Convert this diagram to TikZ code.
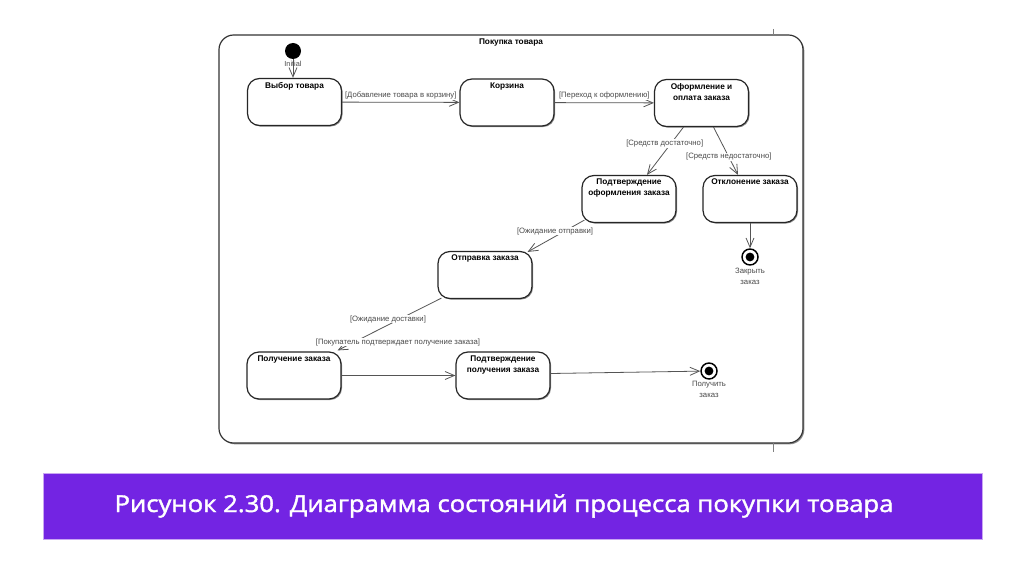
\documentclass[tikz,border=0pt]{standalone}
\usepackage{graphicx}
\usepackage{fontspec}
\setmainfont{Liberation Sans}
\newfontfamily\capfont[FakeBold=1.6]{Open Sans}
\usetikzlibrary{arrows.meta,shadows,calc}
\definecolor{band}{HTML}{7324E3}
\definecolor{bandedge}{HTML}{C9A6F2}
\definecolor{edgegray}{HTML}{555555}
\definecolor{lblgray}{HTML}{4A4A4A}
\begin{document}
\begin{tikzpicture}[x=0.75pt,y=-0.75pt,
  state/.style={draw=black!85, line width=0.9pt, rounded corners=9pt, fill=white,
    minimum width=70.5pt, minimum height=35.25pt, inner sep=0pt,
    drop shadow={shadow xshift=0.8pt, shadow yshift=-0.8pt, opacity=0.45, fill=black}},
  stext/.style={font=\fontsize{6.2}{8.2}\selectfont\bfseries, align=center, anchor=north, inner sep=0pt, yshift=-3pt},
  elabel/.style={font=\fontsize{5.8}{7}\selectfont, text=lblgray, fill=white, inner sep=0.6pt},
  trans/.style={draw=edgegray, line width=0.6pt, -{Straight Barb[length=7pt,width=6pt,line width=0.6pt]}},
  finalst/.style={circle, draw=black, line width=1.1pt, fill=white, minimum size=12pt, inner sep=0pt,
    path picture={\fill[black] (path picture bounding box.center) circle (3.3pt);}},
  fintext/.style={font=\fontsize{5.8}{8.25}\selectfont, text=lblgray, align=center, inner sep=0pt},
  framebox/.style={draw=black!80, line width=0.9pt, rounded corners=11pt, fill=white,
    drop shadow={shadow xshift=1pt, shadow yshift=-1pt, opacity=0.45, fill=black}},
]
\useasboundingbox (0,0) rectangle (1024,574);
\fill[white] (0,0) rectangle (1024,574);

% frame
\draw[framebox] (219,35) rectangle (803,443);
\draw[gray, line width=0.5pt] (773,29) -- (773,35);
\draw[gray, line width=0.5pt] (773,443) -- (773,452);
\node[font=\fontsize{6.2}{7}\selectfont\bfseries, inner sep=0pt] (title) at (511,43) {Покупка товара};

% states
\node[state] (vybor) at (294.5,102) {};
\node[stext] (vybort) at (vybor.north) {Выбор товара};
\node[state] (korz) at (507,102.5) {};
\node[stext] (korzt) at (korz.north) {Корзина};
\node[state] (oform) at (701.5,103) {};
\node[stext] (oformt) at (oform.north) {Оформление и\\оплата заказа};
\node[state] (podtv1) at (629,199) {};
\node[stext] (podtv1t) at (podtv1.north) {Подтверждение\\оформления заказа};
\node[state] (otkl) at (750,199) {};
\node[stext] (otklt) at (otkl.north) {Отклонение заказа};
\node[state] (otpr) at (485,275) {};
\node[stext] (otprt) at (otpr.north) {Отправка заказа};
\node[state] (poluch) at (294,375.5) {};
\node[stext] (polucht) at (poluch.north) {Получение заказа};
\node[state] (podtv2) at (503,375.5) {};
\node[stext] (podtv2t) at (podtv2.north) {Подтверждение\\получения заказа};

% pseudo states
\node[circle, fill=black, minimum size=12pt, inner sep=0pt] (init) at (293,51) {};
\node[finalst] (fin1) at (750,257) {};
\node[fintext] (fin1t) at (750,276) {Закрыть\\заказ};
\node[finalst] (fin2) at (709,371) {};
\node[fintext] (fin2t) at (709,389) {Получить\\заказ};

% transitions
\draw[trans] (init) -- (init |- vybor.north);
\node[font=\fontsize{5.5}{6}\selectfont, text=lblgray, inner sep=0pt] (initt) at (293,64) {Initial};
\draw[trans] (vybor) -- node[elabel, above=1.5pt] (l1) {[Добавление товара в корзину]} (korz);
\draw[trans] (korz) -- node[elabel, above=1.5pt] (l2) {[Переход к оформлению]} (oform);
\draw[trans] ($(oform.south)+(-18,0)$) -- node[elabel, pos=0.35, xshift=-4.5pt] (l3) {[Средств достаточно]} ($(podtv1.north)+(18,0)$);
\draw[trans] ($(oform.south)+(12,0)$) -- node[elabel, pos=0.625] (l4) {[Средств недостаточно]} ($(otkl.north)+(-12,0)$);
\draw[trans] (otkl) -- (fin1);
\draw[trans] ($(podtv1.south west)+(3,-3)$) -- ($(otpr.north east)+(-5,1)$);
\node[elabel] (l5) at (555,231) {[Ожидание отправки]};
\draw[trans] ($(otpr.south west)+(4,-1)$) -- ($(poluch.north east)+(-4,-1)$);
\node[elabel] (l6) at (388,319) {[Ожидание доставки]};
\node[elabel] (l7) at (398,342) {[Покупатель подтверждает получение заказа]};
\draw[trans] (poluch) -- (podtv2);
\draw[trans] ($(podtv2.east)+(0,-2)$) -- (fin2);

% caption band
\draw[fill=band, draw=bandedge, line width=0.6pt] (43,473) rectangle (982,539);
\node[font=\capfont\fontsize{17.5}{21}\selectfont, text=white, inner sep=0pt] (cap) at (504,506) {\scalebox{1.1}[1]{Рисунок 2.30. Диаграмма состояний процесса покупки товара}};
\end{tikzpicture}
\end{document}
